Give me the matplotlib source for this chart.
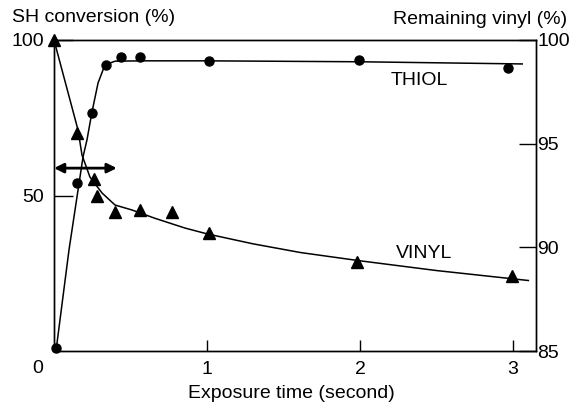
import matplotlib.pyplot as plt

plt.rcParams["font.family"] = ["Liberation Sans", "DejaVu Sans"]
plt.rcParams["font.size"] = 14

# measured points: thiol (SH conversion, left axis)
thiol_t = [0.015, 0.15, 0.25, 0.34, 0.44, 0.56, 1.01, 1.99, 2.97]
thiol_conv = [1, 54, 76.5, 92, 94.5, 94.5, 93.3, 93.6, 91]

# measured points: vinyl (remaining vinyl, right axis)
vinyl_t = [0.0, 0.15, 0.26, 0.28, 0.40, 0.56, 0.77, 1.01, 1.98, 2.99]
vinyl_rem = [100, 95.5, 93.3, 92.5, 91.7, 91.8, 91.7, 90.7, 89.3, 88.6]

# fitted curves
thiol_fit_t = [0.013, 0.098, 0.19, 0.216, 0.248, 0.288, 0.333, 0.4, 0.59, 1.0, 2.0, 3.06]
thiol_fit = [0, 32.5, 62.5, 68, 76.8, 86.2, 92.0, 93.2, 93.3, 93.3, 93.0, 92.3]

vinyl_fit_t = [0.0, 0.157, 0.183, 0.235, 0.314, 0.399, 0.51, 0.66, 0.856, 1.0,
               1.3, 1.61, 2.0, 2.5, 3.1]
vinyl_fit = [100, 95.66, 94.45, 93.39, 92.62, 92.04, 91.8, 91.4, 90.93, 90.65,
             90.17, 89.75, 89.35, 88.88, 88.4]

fig = plt.figure(figsize=(5.7, 4.05), dpi=100)
ax = fig.add_axes([54 / 570, 1 - 351 / 405, (536 - 54) / 570, (351 - 40) / 405])
ax2 = ax.twinx()

ax.set_xlim(0, 3.15)
ax.set_ylim(0, 100)
ax2.set_ylim(85, 100)

# thiol
ax.plot(thiol_fit_t, thiol_fit, color="black", lw=1.1)
ax.plot(thiol_t, thiol_conv, "o", color="black", ms=6.5, clip_on=False)

# vinyl
ax2.plot(vinyl_fit_t, vinyl_fit, color="black", lw=1.1)
ax2.plot(vinyl_t, vinyl_rem, "^", color="black", ms=8.5, clip_on=False)

# double arrow
ax.annotate("", xy=(0.0, 58.8), xytext=(0.41, 58.8),
            arrowprops=dict(arrowstyle="<|-|>", color="black", lw=2,
                            mutation_scale=14, shrinkA=0, shrinkB=0))

ax.text(2.386, 87.1, "THIOL", ha="center", va="center")
ax.text(2.42, 31.5, "VINYL", ha="center", va="center")

for a in (ax, ax2):
    for s in a.spines.values():
        s.set_linewidth(1.0)

ax.set_xticks([1, 2, 3])
ax.set_yticks([50, 100])
ax.tick_params(axis="x", direction="in", length=8, width=1, pad=7)
ax.tick_params(axis="y", direction="in", length=14, width=1, pad=7)
ax2.set_yticks([85, 90, 95, 100])
ax2.tick_params(axis="y", direction="in", length=12, width=1, pad=1)

fig.text(38 / 570, 1 - 368.5 / 405, "0", ha="center", va="center")
fig.text(12 / 570, 1 - 18 / 405, "SH conversion (%)", ha="left", va="center")
fig.text(567 / 570, 1 - 20 / 405, "Remaining vinyl (%)", ha="right", va="center")
fig.text(291 / 570, 1 - 393 / 405, "Exposure time (second)", ha="center", va="center")

fig.savefig("out.png", dpi=100)
